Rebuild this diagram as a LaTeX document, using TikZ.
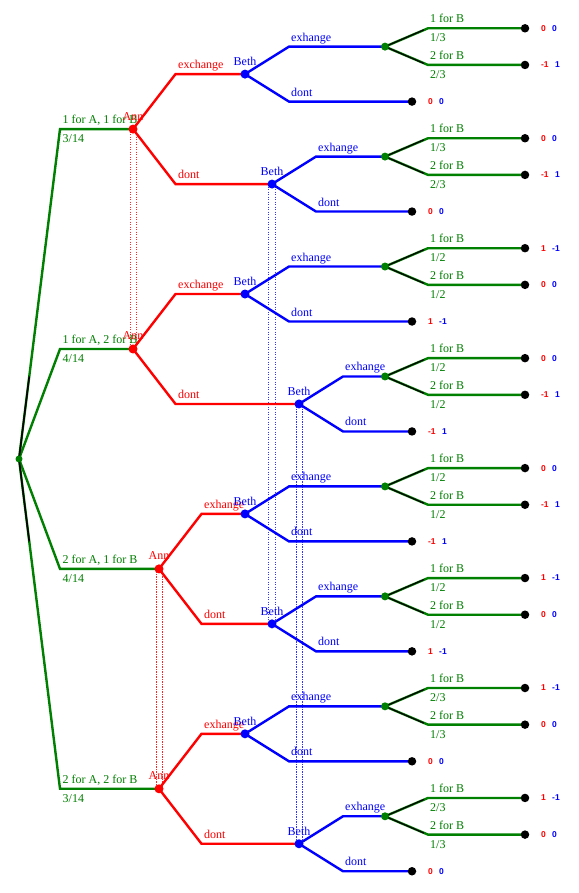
\documentclass[tikz,border=0pt]{standalone}
\usepackage{fontspec}
\setmainfont{Liberation Serif}
\setsansfont{Liberation Sans}
\definecolor{grn}{RGB}{0,128,0}
\pgfdeclarelayer{paper}
\pgfdeclarelayer{infol}
\pgfdeclarelayer{bg}
\pgfdeclarelayer{top}
\pgfsetlayers{paper,infol,bg,main,top}
\tikzset{
 dotn/.style={circle,inner sep=0pt,minimum size=#1},
 anndot/.style={dotn=9pt,fill=red},
 bethdot/.style={dotn=9pt,fill=blue},
 chdot/.style={dotn=8pt,fill=grn},
 termdot/.style={dotn=8.5pt,fill=black},
 rootdot/.style={dotn=7pt,fill=grn},
 redline/.style={draw=red,line width=2.4pt},
 blueline/.style={draw=blue,line width=2.4pt},
 greenline/.style={draw=grn,line width=2.4pt},
 blackthin/.style={draw=black,line width=1.2pt},
 lbl/.style={inner sep=0pt,anchor=base west,font=\fontsize{12}{14}\selectfont},
 paylbl/.style={inner sep=0pt,anchor=west,font=\fontsize{8.5}{9}\selectfont\sffamily\bfseries},
 redinfo/.style={draw=red!85,line width=1pt,dash pattern=on 1.2pt off 1.3pt},
 blueinfo/.style={draw=blue!80,line width=1pt,dash pattern=on 1.2pt off 1.3pt}
}
\newcommand\Base{28.3}
\newcommand\Sp{36.65}
\newcommand\Pay[2]{\textcolor{red}{#1}\hspace{6.5pt}\textcolor{blue}{#2}}
% #1 name, #2 Beth x, #3 base leaf index, #4 #5 probabilities, #6 #7 #8 payoffs
\newcommand\BethTree[8]{%
 \pgfmathsetmacro\ya{\Base+\Sp*#3}%
 \pgfmathsetmacro\yb{\ya+\Sp}%
 \pgfmathsetmacro\yd{\ya+2*\Sp}%
 \pgfmathsetmacro\yc{(\ya+\yb)/2}%
 \pgfmathsetmacro\ye{(\yc+\yd)/2}%
 \pgfmathsetmacro\xe{#2+44}%
 \node[bethdot] (#1) at (#2,\ye) {};
 \node[chdot] (#1c) at (385,\yc) {};
 \node[termdot] (#1t1) at (525,\ya) {};
 \node[termdot] (#1t2) at (525,\yb) {};
 \node[termdot] (#1t3) at (412,\yd) {};
 \coordinate (#1e1) at (\xe,\yc);
 \coordinate (#1e2) at (\xe,\yd);
 \coordinate (#1e3) at (428,\ya);
 \coordinate (#1e4) at (428,\yb);
 \coordinate (#1k1) at (424,\ya+1.5);
 \coordinate (#1k2) at (424,\yb-1.5);
 \begin{pgfonlayer}{bg}
 \draw[blueline] (#1.center) -- (#1e1) -- (#1c.center);
 \draw[blueline] (#1.center) -- (#1e2) -- (#1t3.center);
 \draw[greenline] (#1c.center) -- (#1e3) -- (#1t1.center);
 \draw[greenline] (#1c.center) -- (#1e4) -- (#1t2.center);
 \draw[blackthin] (#1c.center) -- (#1k1);
 \draw[blackthin] (#1c.center) -- (#1k2);
 \end{pgfonlayer}
 \node[paylbl] (#1p1) at (540.8,\ya) {#6};
 \node[paylbl] (#1p2) at (540.8,\yb) {#7};
 \node[paylbl] (#1p3) at (427.8,\yd) {#8};
 \node[lbl,text=grn] (#1g1) at (430,\ya-5.5) {1 for B};
 \node[lbl,text=grn] (#1g2) at (430,\ya+13.5) {#4};
 \node[lbl,text=grn] (#1g3) at (430,\yb-5.5) {2 for B};
 \node[lbl,text=grn] (#1g4) at (430,\yb+13.5) {#5};
 \node[lbl,text=blue] (#1x) at (\xe+2,\yc-5.5) {exhange};
 \node[lbl,text=blue] (#1d) at (\xe+2,\yd-5.5) {dont};
 \begin{pgfonlayer}{top}
 \node[lbl,text=blue,anchor=base] (#1n) at (#2,\ye-8.5) {Beth};
 \end{pgfonlayer}
}
% #1 name, #2 Ann x, #3 k, #4 label, #5 prob, #6 exchange word, #7 red elbow x
\newcommand\AnnTree[7]{%
 \pgfmathsetmacro\yo{\Base+\Sp*6*#3}%
 \pgfmathsetmacro\yan{\yo+\Sp*2.75}%
 \pgfmathsetmacro\yba{\yo+\Sp*1.25}%
 \pgfmathsetmacro\ybb{\yo+\Sp*4.25}%
 \node[lbl,text=grn] (#1g1) at (62.5,\yan-5.5) {#4};
 \node[lbl,text=grn] (#1g2) at (62.5,\yan+13.5) {#5};
 \node[anndot] (#1) at (#2,\yan) {};
 \coordinate (#1e0) at (60,\yan);
 \coordinate (#1e1) at (#7,\yba);
 \coordinate (#1e2) at (#7,\ybb);
 \begin{pgfonlayer}{bg}
 \draw[greenline] (root.center) -- (#1e0) -- (#1.center);
 \draw[redline] (#1.center) -- (#1e1) -- (#1a.center);
 \draw[redline] (#1.center) -- (#1e2) -- (#1b.center);
 \end{pgfonlayer}
 \node[lbl,text=red] (#1x) at (#7+2.5,\yba-5.5) {#6};
 \node[lbl,text=red] (#1d) at (#7+2.5,\ybb-5.5) {dont};
 \begin{pgfonlayer}{top}
 \node[lbl,text=red,anchor=base] (#1n) at (#2,\yan-9) {Ann};
 \end{pgfonlayer}
}
\begin{document}
\begin{tikzpicture}[x=1pt,y=-1pt]
\begin{pgfonlayer}{paper}
\fill[white] (0,0) rectangle (578,893);
\end{pgfonlayer}
\useasboundingbox (0,0) rectangle (578,893);
\node[rootdot] (root) at (19,{\Base+\Sp*11.75}) {};
\BethTree{A1a}{245}{0}{1/3}{2/3}{\Pay00}{\Pay{-1}1}{\Pay00}
\BethTree{A1b}{272}{3}{1/3}{2/3}{\Pay00}{\Pay{-1}1}{\Pay00}
\BethTree{A2a}{245}{6}{1/2}{1/2}{\Pay1{-1}}{\Pay00}{\Pay1{-1}}
\BethTree{A2b}{299}{9}{1/2}{1/2}{\Pay00}{\Pay{-1}1}{\Pay{-1}1}
\BethTree{A3a}{245}{12}{1/2}{1/2}{\Pay00}{\Pay{-1}1}{\Pay{-1}1}
\BethTree{A3b}{272}{15}{1/2}{1/2}{\Pay1{-1}}{\Pay00}{\Pay1{-1}}
\BethTree{A4a}{245}{18}{2/3}{1/3}{\Pay1{-1}}{\Pay00}{\Pay00}
\BethTree{A4b}{299}{21}{2/3}{1/3}{\Pay1{-1}}{\Pay00}{\Pay00}
\AnnTree{A1}{133}{0}{1 for A, 1 for B}{3/14}{exchange}{175.5}
\AnnTree{A2}{133}{1}{1 for A, 2 for B}{4/14}{exchange}{175.5}
\AnnTree{A3}{159}{2}{2 for A, 1 for B}{4/14}{exhange}{201.5}
\AnnTree{A4}{159}{3}{2 for A, 2 for B}{3/14}{exhange}{201.5}
\coordinate (rk1) at (29.25,{\Base+\Sp*11.75-82.5});
\coordinate (rk2) at (29.25,{\Base+\Sp*11.75+82.5});
\begin{pgfonlayer}{bg}
\draw[blackthin,line width=1.6pt] (root.center) -- (rk1);
\draw[blackthin,line width=1.6pt] (root.center) -- (rk2);
\end{pgfonlayer}
\begin{pgfonlayer}{infol}
\draw[redinfo] ([xshift=-3pt]A1.center) -- ([xshift=-3pt]A2.center);
\draw[redinfo] ([xshift=3pt]A1.center) -- ([xshift=3pt]A2.center);
\draw[redinfo] ([xshift=-3pt]A3.center) -- ([xshift=-3pt]A4.center);
\draw[redinfo] ([xshift=3pt]A3.center) -- ([xshift=3pt]A4.center);
\draw[blueinfo] ([xshift=-3.5pt]A1b.center) -- ([xshift=-3.5pt]A3b.center);
\draw[blueinfo] ([xshift=3.5pt]A1b.center) -- ([xshift=3.5pt]A3b.center);
\draw[blueinfo] ([xshift=-3pt]A2b.center) -- ([xshift=-3pt]A4b.center);
\draw[blueinfo] ([xshift=3pt]A2b.center) -- ([xshift=3pt]A4b.center);
\end{pgfonlayer}
\end{tikzpicture}
\end{document}
